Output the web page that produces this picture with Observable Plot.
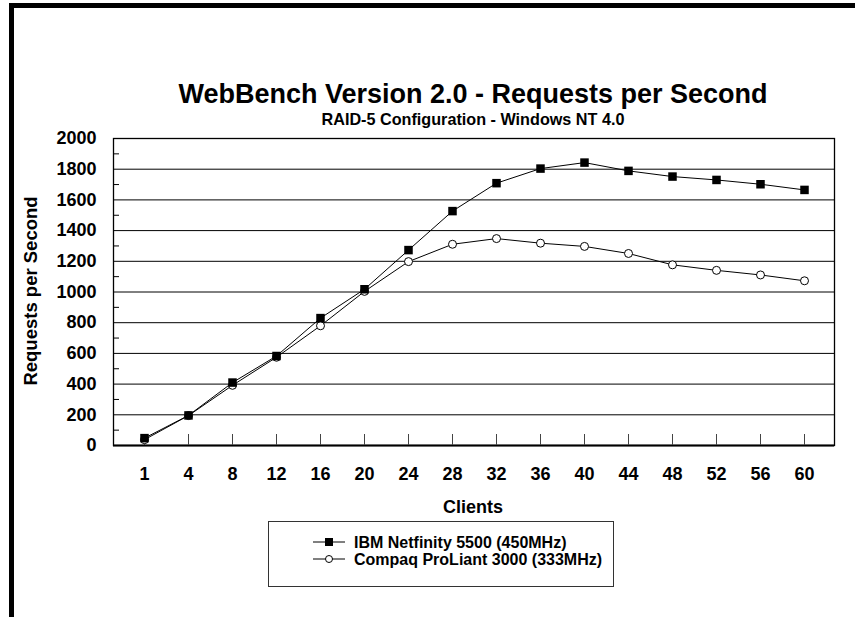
<!DOCTYPE html>
<html>
<head>
<meta charset="utf-8">
<script src="https://cdn.jsdelivr.net/npm/d3@7"></script>
<script src="https://cdn.jsdelivr.net/npm/@observablehq/plot@0.6"></script>
<style>
  body { margin: 0; background: #fff; }
  #wrap { position: relative; width: 855px; height: 617px; overflow: hidden; background: #fff; font-family: "Liberation Sans", Arial, sans-serif; }
  #border { position: absolute; left: 9px; top: 3px; right: -10px; bottom: -10px; border-top: 5px solid #000; border-left: 5px solid #000; }
  #chart { position: absolute; left: 0; top: 0; }
  #overlay { position: absolute; left: 0; top: 0; pointer-events: none; }
  #overlay text { font-family: "Liberation Sans", Arial, sans-serif; font-weight: bold; fill: #000; }
</style>
</head>
<body>
<div id="wrap">
  <div id="border"></div>
  <div id="chart"></div>
  <svg id="overlay" width="855" height="617">
    <text x="473" y="103" text-anchor="middle" font-size="27">WebBench Version 2.0 - Requests per Second</text>
    <text x="473" y="125" text-anchor="middle" font-size="16.2">RAID-5 Configuration - Windows NT 4.0</text>
    <text transform="translate(37,291) rotate(-90)" text-anchor="middle" font-size="18.5">Requests per Second</text>
    <text x="473" y="513" text-anchor="middle" font-size="18">Clients</text>
    <rect x="268.5" y="521.5" width="345" height="65" fill="none" stroke="#333" stroke-width="1"></rect>
    <line x1="313" x2="345" y1="542" y2="542" stroke="#000" stroke-width="1"></line>
    <rect x="325" y="538" width="8" height="8" fill="#000"></rect>
    <line x1="313" x2="345" y1="559" y2="559" stroke="#000" stroke-width="1"></line>
    <circle cx="329" cy="559" r="3.5" fill="#fff" stroke="#000" stroke-width="1"></circle>
    <text x="354" y="548" font-size="16">IBM Netfinity 5500 (450MHz)</text>
    <text x="354" y="565" font-size="16">Compaq ProLiant 3000 (333MHz)</text>
  </svg>
</div>
<script>
const clients = ["1","4","8","12","16","20","24","28","32","36","40","44","48","52","56","60"];
const ibmValues = [48, 196, 410, 583, 830, 1018, 1273, 1527, 1709, 1804, 1843, 1789, 1752, 1730, 1702, 1665];
const compaqValues = [38, 195, 392, 575, 780, 1004, 1198, 1311, 1348, 1318, 1297, 1251, 1177, 1141, 1111, 1073];
const yTickValues = [0, 200, 400, 600, 800, 1000, 1200, 1400, 1600, 1800, 2000];
const yMinorTicks = [100, 300, 500, 700, 900, 1100, 1300, 1500, 1700, 1900];
const gridValues = [200, 400, 600, 800, 1000, 1200, 1400, 1600, 1800];

const ibm = clients.map((c, i) => ({c, v: ibmValues[i]}));
const compaq = clients.map((c, i) => ({c, v: compaqValues[i]}));

const chart = Plot.plot({
  width: 855,
  height: 617,
  marginLeft: 113,
  marginRight: 21,
  marginTop: 138,
  marginBottom: 172,
  style: {fontFamily: '"Liberation Sans", Arial, sans-serif', background: "transparent", color: "#000"},
  x: {type: "point", domain: clients, padding: 0.656},
  y: {domain: [0, 2000]},
  marks: [
    Plot.ruleY(gridValues, {stroke: "#000", strokeWidth: 1}),
    Plot.frame({stroke: "#000", strokeWidth: 1.3}),
    Plot.ruleY([0], {stroke: "#000", strokeWidth: 2}),
    Plot.axisY({ticks: yMinorTicks, tickSize: -6, tickFormat: () => "", label: null}),
    Plot.axisY({ticks: yTickValues, tickSize: 0, tickPadding: 17, tickFormat: d => String(d), fontSize: 18, fontWeight: "bold", label: null}),
    Plot.axisX({tickSize: -11, tickFormat: () => "", label: null, stroke: "#444"}),
    Plot.axisX({tickSize: 0, tickPadding: 22, fontSize: 18, fontWeight: "bold", label: null}),
    Plot.line(ibm, {x: "c", y: "v", stroke: "#000", strokeWidth: 1}),
    Plot.line(compaq, {x: "c", y: "v", stroke: "#000", strokeWidth: 1}),
    Plot.dot(compaq, {x: "c", y: "v", symbol: "circle", r: 4, fill: "#fff", stroke: "#000", strokeWidth: 1}),
    Plot.dot(ibm, {x: "c", y: "v", symbol: "square", r: 4.8, fill: "#000", stroke: "none"})
  ]
});
document.getElementById("chart").appendChild(chart);
</script>
</body>
</html>
